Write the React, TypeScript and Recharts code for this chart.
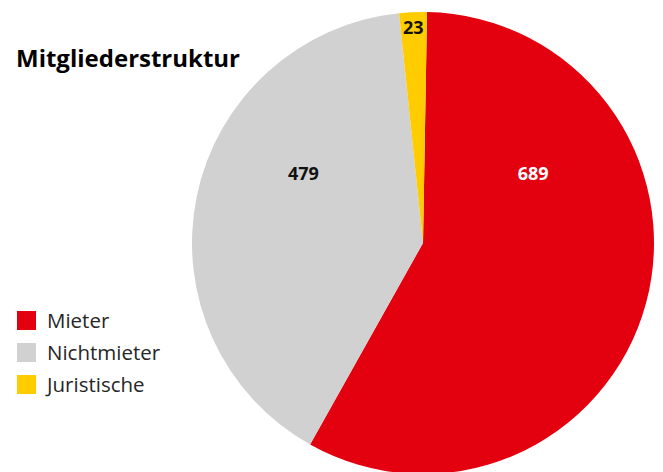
import React from 'react';
import { PieChart, Pie, Cell } from 'recharts';

// Mitgliederstruktur — Anteile nach Mitgliedsart
const categories = ['Mieter', 'Nichtmieter', 'Juristische'];
const members = [689, 479, 23];
const colors = ['#E3000F', '#D0D1D0', '#FFCC00'];
const labelColors = ['#FFFFFF', '#111111', '#111111'];

const data = categories.map((name, i) => ({ name, value: members[i] }));

// Excel-ähnliche Label-Lage (Winkel in Grad, Radius relativ zum Außenradius)
const labelSpots = [
  { angle: 32.5, r: 0.565 },
  { angle: 149.7, r: 0.6 },
  { angle: 92.6, r: 0.936 },
];

const FONT = '"Open Sans", "Noto Sans", sans-serif';

function renderLabel(props: any) {
  const { cx, cy, outerRadius, index, value } = props;
  const spot = labelSpots[index];
  const rad = (spot.angle * Math.PI) / 180;
  const x = cx + outerRadius * spot.r * Math.cos(rad);
  const y = cy - outerRadius * spot.r * Math.sin(rad);
  return (
    <text
      x={x}
      y={y}
      fill={labelColors[index]}
      textAnchor="middle"
      dominantBaseline="central"
      fontFamily={FONT}
      fontWeight={700}
      fontSize={18}
    >
      {value}
    </text>
  );
}

function LegendBox() {
  return (
    <div style={{ position: 'absolute', left: 17, top: 304, fontFamily: FONT }}>
      {categories.map((c, i) => (
        <div key={c} style={{ display: 'flex', alignItems: 'center', height: 32 }}>
          <span style={{ width: 19, height: 19, background: colors[i], display: 'inline-block' }} />
          <span style={{ marginLeft: 11, fontSize: 20.5, color: '#262626', fontWeight: 400 }}>{c}</span>
        </div>
      ))}
    </div>
  );
}

export default function App() {
  return (
    <div style={{ position: 'absolute', left: 0, top: 0, width: 663, height: 472, background: '#fff', overflow: 'hidden' }}>
      <PieChart width={663} height={472} margin={{ top: 0, right: 0, bottom: 0, left: 0 }}>
        <Pie
          data={data}
          dataKey="value"
          nameKey="name"
          cx={423}
          cy={243}
          outerRadius={231}
          innerRadius={0}
          startAngle={89}
          endAngle={-271}
          stroke="none"
          label={renderLabel}
          labelLine={false}
          isAnimationActive={false}
        >
          {data.map((d, i) => (
            <Cell key={d.name} fill={colors[i]} />
          ))}
        </Pie>
      </PieChart>
      <div
        style={{
          position: 'absolute',
          left: 16,
          top: 42,
          fontFamily: FONT,
          fontWeight: 700,
          fontSize: 24,
          color: '#000',
          lineHeight: '32px',
        }}
      >
        Mitgliederstruktur
      </div>
      <LegendBox />
    </div>
  );
}
